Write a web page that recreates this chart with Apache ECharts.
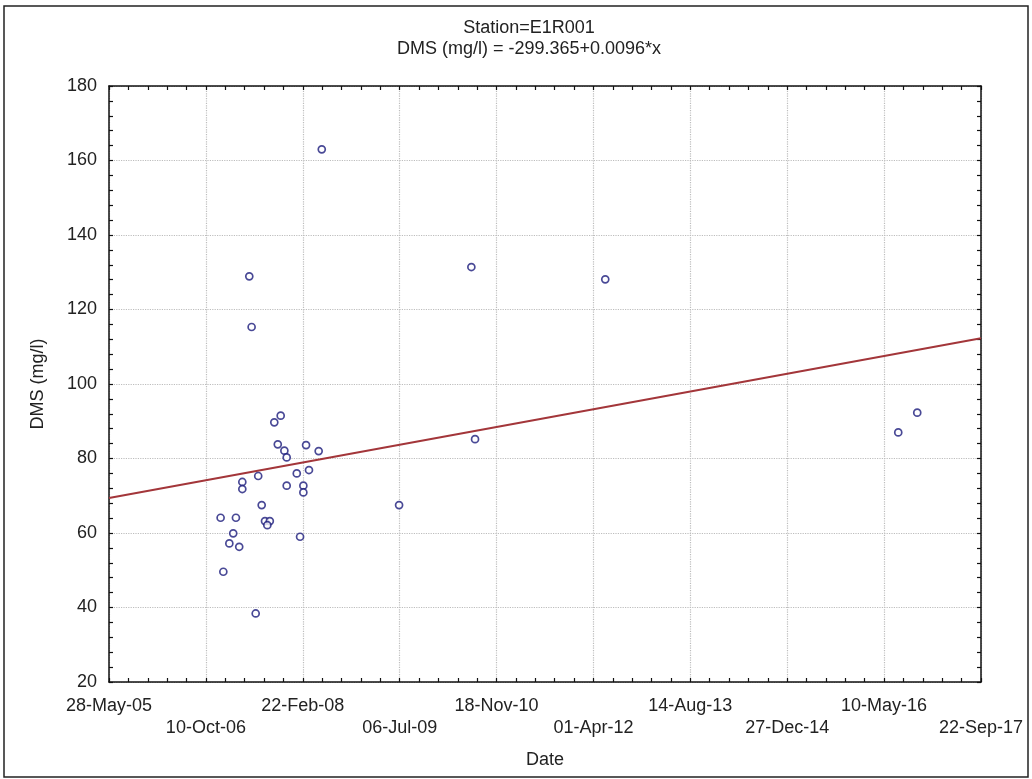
<!DOCTYPE html>
<html>
<head>
<meta charset="utf-8">
<script src="https://cdn.jsdelivr.net/npm/echarts@6/dist/echarts.min.js"></script>
<style>
html,body{margin:0;padding:0;background:#fff;}
#main{width:1032px;height:779px;}
</style>
</head>
<body>
<div id="main"></div>
<script>
// sample dates as spreadsheet serial numbers (days since 30-Dec-1899)
const sampleDates = [
  39386, 39353, 39371, 39405, 39417, 39517, 39582, 39270, 39469, 39532,
  39188, 39188, 39417, 39503, 39503, 39288, 39076, 39155, 39305, 39330,
  39317, 39141, 39486, 39121, 39172, 39090, 39257, 39598, 39224, 39236,
  40370, 40389, 41061, 39997, 42573, 42671
]
// DMS (mg/l) for each sample
const dmsValues = [
  91.5, 89.7, 83.8, 82.1, 80.3, 83.6, 82.0, 75.3, 76.0, 76.9,
  73.7, 71.8, 72.7, 72.7, 70.9, 67.5, 64.1, 64.1, 63.2, 63.2,
  62.1, 59.9, 59.0, 57.2, 56.3, 49.6, 38.4, 163.0, 128.9, 115.3,
  131.4, 85.2, 128.1, 67.5, 87.0, 92.3
]
// regression line ends
const fitDates = [38500, 43000]
const fitValues = [69.4, 112.3]

const xMin = 38500, xMax = 43000, xStep = 500
const yMin = 20, yMax = 180, yStep = 20

const MONTHS = ['Jan','Feb','Mar','Apr','May','Jun','Jul','Aug','Sep','Oct','Nov','Dec']
function serialToLabel(v){
  const d = new Date(Date.UTC(1899,11,30) + v*86400000)
  const dd = String(d.getUTCDate()).padStart(2,'0')
  return dd + '-' + MONTHS[d.getUTCMonth()] + '-' + String(d.getUTCFullYear()).slice(2)
}

const FONT = '"Liberation Sans", Arial, sans-serif'
const frameAxis = {
  axisLine:{show:true,onZero:false,lineStyle:{color:'#111',width:1.5}},
  axisTick:{show:true,inside:true,length:4,lineStyle:{color:'#111',width:1.2}},
  minorTick:{show:true,splitNumber:5,length:4,lineStyle:{color:'#111',width:1.2}}
}

const chart = echarts.init(document.getElementById('main'))
chart.setOption({
  backgroundColor:'#fff',
  animation:false,
  title:{
    text:'Station=E1R001\nDMS (mg/l) = -299.365+0.0096*x',
    left:524,
    top:13,
    textAlign:'center',
    textStyle:{fontFamily:FONT,fontSize:18,fontWeight:'normal',color:'#222',lineHeight:21}
  },
  graphic:[{
    type:'rect',
    shape:{x:4,y:6,width:1024,height:771},
    style:{fill:'none',stroke:'#222',lineWidth:1.5},
    silent:true,
    z:-1
  }],
  grid:{left:109,right:51,top:86,bottom:97},
  xAxis:[
    Object.assign({
      type:'value',min:xMin,max:xMax,interval:xStep,position:'bottom',
      name:'Date',nameLocation:'middle',nameGap:69,
      nameTextStyle:{fontFamily:FONT,fontSize:18,color:'#222'},
      axisLabel:{
        fontFamily:FONT,fontSize:18,color:'#222',margin:13,lineHeight:22,
        showMinLabel:true,showMaxLabel:true,
        formatter:(v)=>{
          const idx = Math.round((v-xMin)/xStep)
          const lbl = serialToLabel(v)
          return idx%2 ? '\n'+lbl : lbl
        }
      },
      splitLine:{show:true,lineStyle:{color:'#bdbdbd',type:'dotted',width:1.2}}
    }, frameAxis),
    Object.assign({
      type:'value',min:xMin,max:xMax,interval:xStep,position:'top',
      axisLabel:{show:false},splitLine:{show:false}
    }, frameAxis)
  ],
  yAxis:[
    Object.assign({
      type:'value',min:yMin,max:yMax,interval:yStep,position:'left',
      name:'DMS (mg/l)',nameLocation:'middle',nameGap:62,
      nameTextStyle:{fontFamily:FONT,fontSize:18,color:'#222'},
      axisLabel:{fontFamily:FONT,fontSize:18,color:'#222',margin:12},
      splitLine:{show:true,lineStyle:{color:'#bdbdbd',type:'dotted',width:1.2}}
    }, frameAxis),
    Object.assign({
      type:'value',min:yMin,max:yMax,interval:yStep,position:'right',
      axisLabel:{show:false},splitLine:{show:false}
    }, frameAxis)
  ],
  series:[
    {
      type:'line',
      data:fitDates.map((d,i)=>[d,fitValues[i]]),
      symbol:'none',
      lineStyle:{color:'#a3363a',width:2},
      z:2
    },
    {
      type:'scatter',
      data:sampleDates.map((d,i)=>[d,dmsValues[i]]),
      symbol:'circle',
      symbolSize:7,
      itemStyle:{color:'#fff',borderColor:'#1c1c7c',borderWidth:1.7},
      z:3
    }
  ]
})
</script>
</body>
</html>
